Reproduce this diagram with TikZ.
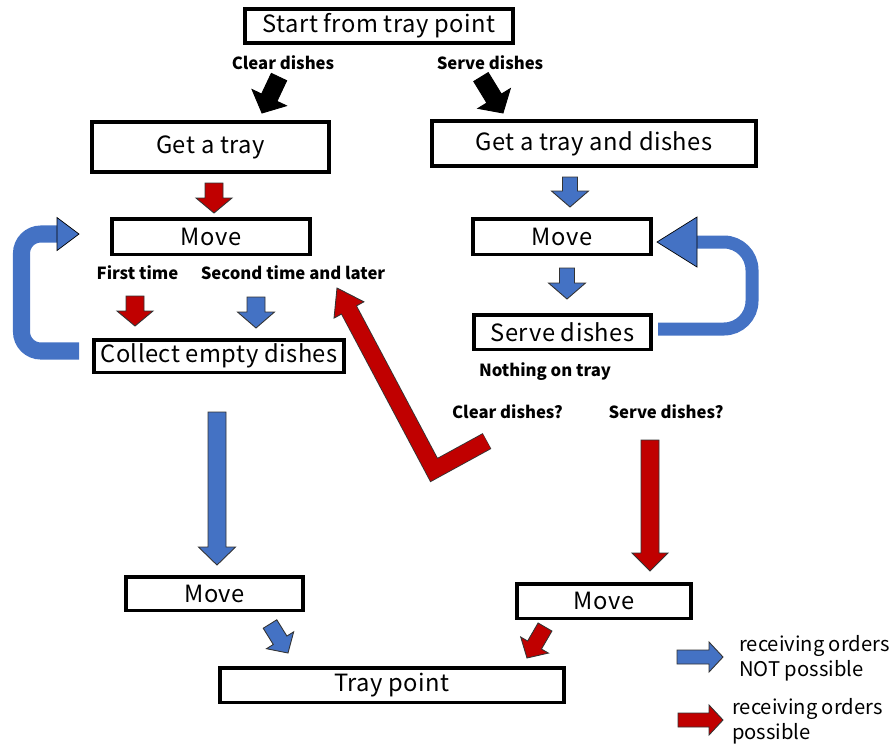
\documentclass[tikz,border=0pt]{standalone}
\usepackage{fontspec}
\setmainfont{Noto Sans CJK JP}
\newfontfamily\boxfont[LetterSpace=2]{Noto Sans CJK JP}
\usepackage{xcolor}
\usepackage{tikz}
\usetikzlibrary{calc}

\definecolor{ordblue}{HTML}{4472C4}
\definecolor{ordred}{HTML}{C00000}

% block arrow: style, from, to, shaft half width, head half width, head length (px)
\newcommand{\blockarrow}[6]{%
  \pgfpointdiff{\pgfpointanchor{#2}{center}}{\pgfpointanchor{#3}{center}}%
  \pgfgetlastxy{\arrdx}{\arrdy}%
  \pgfmathsetmacro{\arrang}{atan2(\arrdy,\arrdx)}%
  \pgfmathsetmacro{\arrlen}{veclen(\arrdx,\arrdy)/0.569055}%
  \filldraw[#1, shift={(#2)}, rotate=\arrang, x=0.02cm, y=0.02cm]
    (0,-#4) -- ({\arrlen-#6},-#4) -- ({\arrlen-#6},-#5) -- (\arrlen,0)
    -- ({\arrlen-#6},#5) -- ({\arrlen-#6},#4) -- (0,#4) -- cycle;%
}

\begin{document}
\begin{tikzpicture}[x=0.02cm, y=-0.02cm,
  box/.style={draw, line width=2pt, inner sep=0pt, font=\boxfont\fontsize{13.5}{16}\selectfont},
  lbl/.style={font=\bfseries\fontsize{9.5}{11}\selectfont},
  legtext/.style={anchor=west, align=left, font=\fontsize{11.5}{14.5}\selectfont},
  bluearr/.style={fill=ordblue, draw=black!80, line width=0.5pt},
  redarr/.style={fill=ordred, draw=black!80, line width=0.5pt},
  blackarr/.style={fill=black, draw=black, line width=0.5pt}]
    \useasboundingbox (0,0) rectangle (895,745);

    % Boxes
    \node[box, minimum width=5.37cm, minimum height=0.69cm] (start) at (379,26) {Start from tray point};
    \node[box, minimum width=4.75cm, minimum height=1.01cm] (trayA) at (210.5,147) {Get a tray};
    \node[box, minimum width=6.49cm, minimum height=0.91cm] (trayB) at (594,143.5) {Get a tray and dishes};
    \node[box, minimum width=3.97cm, minimum height=0.71cm] (moveA) at (211,236.5) {Move};
    \node[box, minimum width=3.57cm, minimum height=0.71cm] (moveB) at (562,236.5) {Move};
    \node[box, minimum width=3.55cm, minimum height=0.69cm] (serve) at (562.5,332) {Serve dishes};
    \node[box, minimum width=5.01cm, minimum height=0.65cm] (collect) at (219,356) {Collect empty dishes};
    \node[box, minimum width=3.55cm, minimum height=0.67cm] (moveC) at (214.5,593.5) {Move};
    \node[box, minimum width=3.49cm, minimum height=0.69cm] (moveD) at (604,601) {Move};
    \node[box, minimum width=6.89cm, minimum height=0.69cm] (traypt) at (392,685) {Tray point};

    % Labels
    \node[lbl] (clear) at (283,63) {Clear dishes};
    \node[lbl] (servelbl) at (490,63) {Serve dishes};
    \node[lbl] (first) at (137.5,273) {First time};
    \node[lbl] (second) at (293,273) {Second time and later};
    \node[lbl] (nothing) at (545,372) {Nothing on tray};
    \node[lbl] (clearq) at (507.5,412) {Clear dishes?};
    \node[lbl] (serveq) at (666,412) {Serve dishes?};

    % Arrow ends
    \coordinate (bl1) at (279,77);  \coordinate (bl2) at (262,113);
    \coordinate (br1) at (481,77);  \coordinate (br2) at (503,113);
    \coordinate (r1a) at (214,183); \coordinate (r1b) at (214,213);
    \coordinate (b1a) at (570,177); \coordinate (b1b) at (570,207);
    \coordinate (b2a) at (567,268); \coordinate (b2b) at (567,299);
    \coordinate (r2a) at (135,296); \coordinate (r2b) at (135,326);
    \coordinate (b3a) at (256,297); \coordinate (b3b) at (256,328);
    \coordinate (b4a) at (217,412); \coordinate (b4b) at (217,565);
    \coordinate (r3a) at (650,440); \coordinate (r3b) at (650,571);
    \coordinate (b5a) at (270,624); \coordinate (b5b) at (288,653);
    \coordinate (r4a) at (545,627); \coordinate (r4b) at (527,658);

    % Straight arrows
    \blockarrow{blackarr}{bl1}{bl2}{8.5}{19}{17}
    \blockarrow{blackarr}{br1}{br2}{8.5}{19}{17}
    \blockarrow{redarr}{r1a}{r1b}{9}{18}{15}
    \blockarrow{bluearr}{b1a}{b1b}{7.5}{18.5}{16}
    \blockarrow{bluearr}{b2a}{b2b}{7.5}{18.5}{16}
    \blockarrow{redarr}{r2a}{r2b}{9}{18}{15}
    \blockarrow{bluearr}{b3a}{b3b}{9}{18.5}{16}
    \blockarrow{bluearr}{b4a}{b4b}{9}{18.5}{18}
    \blockarrow{redarr}{r3a}{r3b}{9}{18}{18}
    \blockarrow{bluearr}{b5a}{b5b}{8}{16}{15}
    \blockarrow{redarr}{r4a}{r4b}{8}{16}{15}

    % Loop back to Move (left)
    \coordinate (la) at (79,351); \coordinate (lb) at (57,234); \coordinate (lc) at (79,234);
    \draw[ordblue, line width=9.7pt, rounded corners=11pt] (la) -- (21.5,351) -- (21.5,234) -- (58,234);
    \blockarrow{fill=ordblue}{lb}{lc}{8.5}{16.5}{22}

    % Loop back to Move (right)
    \coordinate (ra) at (658,329); \coordinate (rb) at (697,242); \coordinate (rc) at (657,242);
    \draw[ordblue, line width=7.4pt, rounded corners=16pt] (ra) -- (752,329) -- (752,242) -- (696,242);
    \blockarrow{fill=ordblue}{rb}{rc}{6.5}{25}{40}

    % Clear dishes? back to Move
    \coordinate (ea) at (487,441); \coordinate (eb) at (434,470);
    \coordinate (ec) at (349,310); \coordinate (ed) at (337,288);
    \draw[black!80, line width=10.2pt, line join=miter] (ea) -- (eb) -- (ec);
    \blockarrow{redarr}{ec}{ed}{8.5}{17}{25}
    \draw[ordred, line width=9.2pt, line join=miter] ($(ea)!0.3pt!(eb)$) -- (eb) -- ($(ec)!-1.5pt!(eb)$);

    % Legend
    \coordinate (lg1) at (677,657); \coordinate (lg2) at (723,657);
    \coordinate (lg3) at (678,720); \coordinate (lg4) at (723,720);
    \blockarrow{bluearr}{lg1}{lg2}{7}{15}{14}
    \blockarrow{redarr}{lg3}{lg4}{7}{15}{14}
    \node[legtext] (legno) at (733,658) {receiving orders\\NOT possible};
    \node[legtext] (legyes) at (726,721) {receiving orders\\possible};
\end{tikzpicture}
\end{document}
